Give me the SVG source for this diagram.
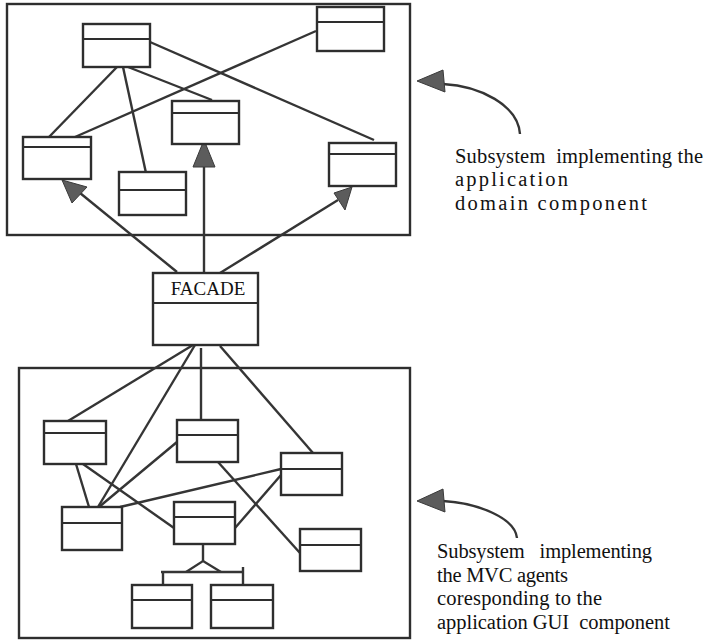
<svg xmlns="http://www.w3.org/2000/svg" width="707" height="641" viewBox="0 0 707 641">
<style>
.frame{fill:none;stroke:#2e2e2e;stroke-width:2.4}
.cls rect{fill:#fff;stroke:#2e2e2e;stroke-width:2.4}
.cls line{stroke:#2e2e2e;stroke-width:2.2}
.conn line,.conn path{stroke:#353535;stroke-width:2.4;fill:none}
.head{fill:#5c5c5c;stroke:#3a3a3a;stroke-width:1}
.hollow{fill:#fff;stroke:#353535;stroke-width:2.2}
.lbl{font-family:"Liberation Serif","Times New Roman",serif;font-size:20.5px;fill:#111;white-space:pre}
.fac{font-family:"Liberation Serif","Times New Roman",serif;font-size:19px;fill:#111}
</style>
<rect class="frame" x="7" y="4" width="403" height="231"/>
<rect class="frame" x="19" y="368" width="391" height="270"/>

<g id="connectors" class="conn">
  <line x1="117" y1="67" x2="49" y2="137"/>
  <line x1="123" y1="67" x2="146" y2="173"/>
  <line x1="128" y1="67" x2="212" y2="100"/>
  <line x1="150" y1="42" x2="374" y2="140"/>
  <line x1="316" y1="31" x2="75" y2="137"/>
  <line x1="177" y1="272" x2="80" y2="193"/>
  <line x1="204" y1="273" x2="204" y2="165"/>
  <line x1="220" y1="273" x2="338" y2="200"/>
  <polygon class="head" points="62,180 87,187 72,203"/>
  <polygon class="head" points="204,140 215,167 193,167"/>
  <polygon class="head" points="352,187 334,193 345,210"/>
  <line x1="193" y1="345" x2="68" y2="421"/>
  <line x1="195" y1="345" x2="98" y2="507"/>
  <line x1="201" y1="348" x2="201" y2="420"/>
  <line x1="220" y1="346" x2="313" y2="453"/>
  <line x1="76" y1="464" x2="89" y2="507"/>
  <line x1="83" y1="464" x2="174" y2="528"/>
  <line x1="177" y1="442" x2="99" y2="507"/>
  <line x1="120" y1="507" x2="281" y2="469"/>
  <line x1="218" y1="462" x2="300" y2="553"/>
  <line x1="235" y1="528" x2="281" y2="475"/>
  <line x1="203" y1="544" x2="203" y2="561"/>
  <polygon class="hollow" points="203,561 221,572 186,572"/>
  <line x1="161" y1="572" x2="244" y2="572"/>
  <line x1="163" y1="572" x2="163" y2="585"/>
  <line x1="243" y1="567" x2="243" y2="585"/>
  <path d="M443,84 C480,86 518,105 520,134"/>
  <polygon class="head" points="417,81 443,70 445,92"/>
  <path d="M443,501 C478,503 515,518 517,538"/>
  <polygon class="head" points="417,501 443,489 445,512"/>
</g>

<g id="top-a" class="cls"><rect x="83" y="24" width="67" height="43"/><line x1="83" y1="39" x2="150" y2="39"/></g>
<g id="top-b" class="cls"><rect x="317" y="7" width="67" height="44"/><line x1="317" y1="22" x2="384" y2="22"/></g>
<g id="top-c" class="cls"><rect x="172" y="101" width="67" height="43"/><line x1="172" y1="113" x2="239" y2="113"/></g>
<g id="top-d" class="cls"><rect x="23" y="137" width="68" height="42"/><line x1="23" y1="147" x2="91" y2="147"/></g>
<g id="top-e" class="cls"><rect x="119" y="172" width="67" height="43"/><line x1="119" y1="190" x2="186" y2="190"/></g>
<g id="top-f" class="cls"><rect x="329" y="143" width="67" height="43"/><line x1="329" y1="154" x2="396" y2="154"/></g>

<g id="facade" class="cls"><rect x="153" y="273" width="105" height="72"/><line x1="153" y1="303" x2="258" y2="303"/><text class="fac" x="208" y="295" text-anchor="middle">FACADE</text></g>

<g id="bot-g" class="cls"><rect x="44" y="421" width="62" height="43"/><line x1="44" y1="433" x2="106" y2="433"/></g>
<g id="bot-h" class="cls"><rect x="177" y="420" width="61" height="42"/><line x1="177" y1="435" x2="238" y2="435"/></g>
<g id="bot-i" class="cls"><rect x="281" y="453" width="61" height="42"/><line x1="281" y1="469" x2="342" y2="469"/></g>
<g id="bot-j" class="cls"><rect x="62" y="507" width="60" height="43"/><line x1="62" y1="523" x2="122" y2="523"/></g>
<g id="bot-k" class="cls"><rect x="174" y="502" width="61" height="42"/><line x1="174" y1="517" x2="235" y2="517"/></g>
<g id="bot-l" class="cls"><rect x="300" y="529" width="61" height="42"/><line x1="300" y1="545" x2="361" y2="545"/></g>
<g id="bot-m" class="cls"><rect x="132" y="585" width="60" height="43"/><line x1="132" y1="600" x2="192" y2="600"/></g>
<g id="bot-n" class="cls"><rect x="211" y="585" width="62" height="43"/><line x1="211" y1="600" x2="273" y2="600"/></g>

<g id="note-top">
  <text class="lbl" x="455" y="163" textLength="248" lengthAdjust="spacing">Subsystem  implementing the</text>
  <text class="lbl" x="455" y="186" textLength="113" lengthAdjust="spacing">application</text>
  <text class="lbl" x="455" y="210" textLength="192" lengthAdjust="spacing">domain component</text>
</g>
<g id="note-bottom">
  <text class="lbl" x="437" y="558" textLength="215" lengthAdjust="spacing">Subsystem   implementing</text>
  <text class="lbl" x="437" y="582" textLength="131" lengthAdjust="spacing">the MVC agents</text>
  <text class="lbl" x="437" y="605" textLength="165" lengthAdjust="spacing">coresponding to the</text>
  <text class="lbl" x="437" y="629" textLength="233" lengthAdjust="spacing">application GUI  component</text>
</g>
</svg>
